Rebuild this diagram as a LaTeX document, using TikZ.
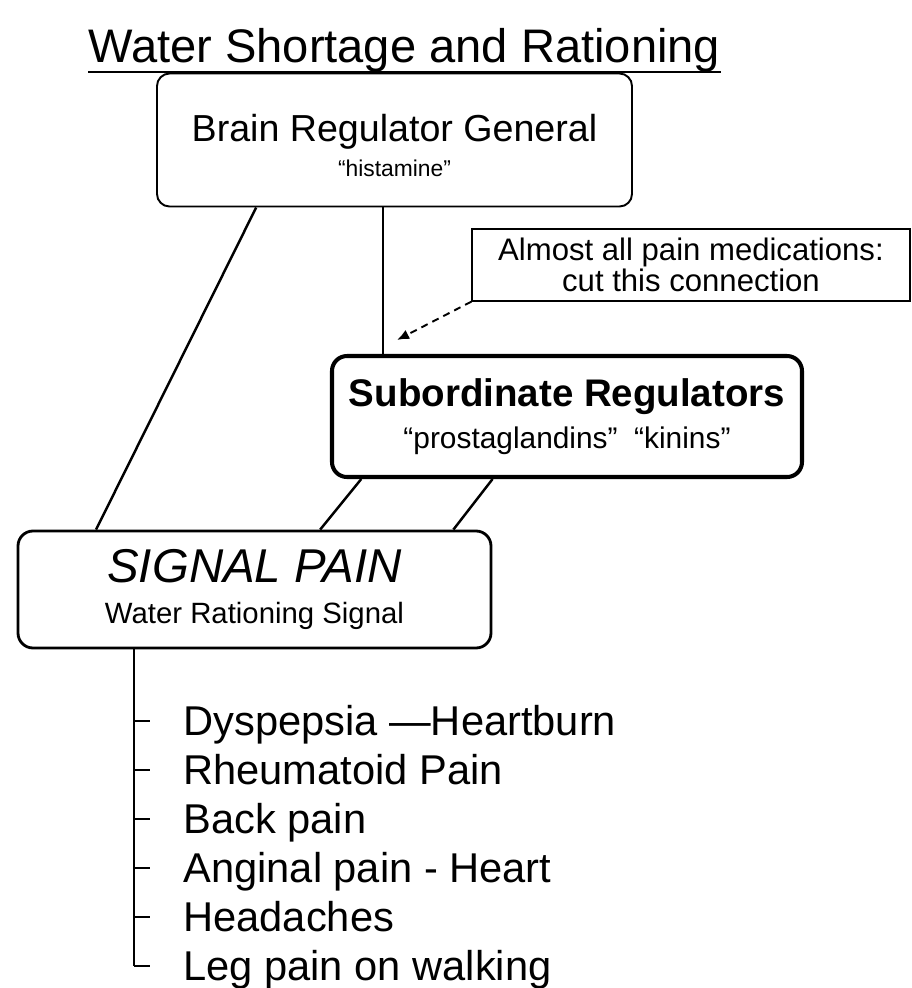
\documentclass[tikz,border=0pt]{standalone}
\usepackage{fontspec}
\setmainfont{Liberation Sans}
\usetikzlibrary{positioning,arrows.meta,calc}
\tikzset{
  link/.style={line width=1.4pt},
  cutarrow/.style={-{Latex[length=2.4mm,width=2mm]}, dash pattern=on 4pt off 3pt, line width=1.1pt},
  genbox/.style={draw, rounded corners=2.5mm, line width=1.1pt, minimum width=9.5cm, minimum height=2.66cm, align=center},
  notebox/.style={draw, line width=0.7pt, minimum width=8.76cm, minimum height=1.44cm, align=center, font=\fontsize{17.7}{17.6}\selectfont},
  subbox/.style={draw, rounded corners=3mm, line width=2.3pt, minimum width=9.4cm, minimum height=2.42cm, align=center},
  sigbox/.style={draw, rounded corners=3mm, line width=1.6pt, minimum width=9.46cm, minimum height=2.34cm, align=center},
  painitem/.style={anchor=west, inner sep=0pt, text height=17pt, text depth=0pt, font=\fontsize{23.7}{26}\selectfont}
}

\begin{document}
\begin{tikzpicture}[>=Latex]
  \useasboundingbox (0,0) rectangle (18.24,-19.76);
  % title
  \node[anchor=base west, inner sep=0pt, font=\fontsize{26.8}{30}\selectfont] (title) at (1.76,-1.24) {Water Shortage and Rationing};
  \draw[line width=1.1pt] (title.south west) -- (title.south east);
  % boxes
  \node[genbox] (brain) at (7.89,-2.8) {{\fontsize{21.4}{24}\selectfont\rule{0pt}{22pt}Brain Regulator General}\\[5pt]{\fontsize{13}{15}\selectfont ``histamine''}};
  \node[notebox] (note) at (13.82,-5.3) {Almost all pain medications:\\cut this connection};
  \node[subbox] (subreg) at (11.34,-8.33) {{\bfseries\fontsize{21.9}{24}\selectfont Subordinate Regulators}\\[6pt]{\fontsize{17}{19}\selectfont ``prostaglandins''\ \ ``kinins''}};
  \node[sigbox] (signal) at (5.09,-11.79) {{\itshape\fontsize{27}{30}\selectfont SIGNAL PAIN}\\[10pt]{\fontsize{16.7}{19}\selectfont Water Rationing Signal}};
  % connections
  \coordinate (gen) at ($(brain.south west)!0.476!(brain.south east)$);
  \draw[link] (gen) -- (gen |- subreg.north);
  \draw[cutarrow] (note.south west) -- ($(gen |- subreg.north)+(0.28,0.28)$);
  \draw[link] ($(brain.south west)!0.21!(brain.south east)$) -- ($(signal.north west)!0.167!(signal.north east)$);
  \draw[link] ($(subreg.south west)!0.066!(subreg.south east)$) -- ($(signal.north west)!0.638!(signal.north east)$);
  \draw[link] ($(subreg.south west)!0.343!(subreg.south east)$) -- ($(signal.north west)!0.918!(signal.north east)$);
  % pain list
  \coordinate (root) at ($(signal.south west)!0.247!(signal.south east)$);
  \foreach \txt [count=\n] in {Dyspepsia\ ---Heartburn, Rheumatoid Pain, Back pain, Anginal pain - Heart, Headaches, Leg pain on walking}
    \node[painitem] (item\n) at (3.66,{-14.42-0.98*(\n-1)}) {\txt};
  \draw[line width=1.1pt] (root) -- (root |- item6.west);
  \foreach \n in {1,...,6}
    \draw[line width=1pt] (root |- item\n.west) -- ++(0.32,0);
\end{tikzpicture}
\end{document}
